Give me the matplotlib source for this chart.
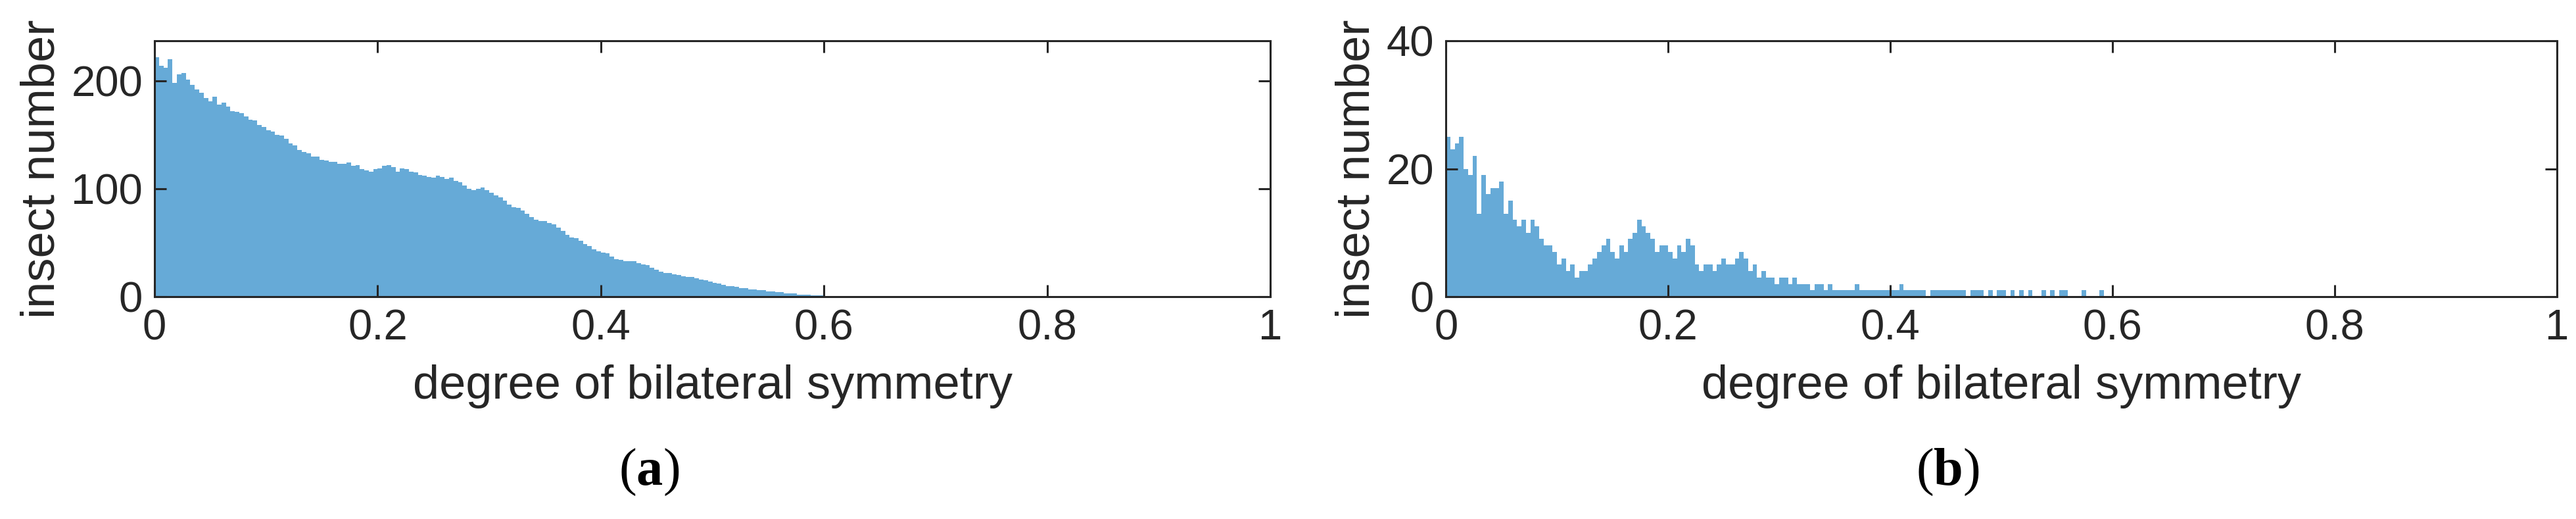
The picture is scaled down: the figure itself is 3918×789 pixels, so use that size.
import numpy as np
import matplotlib.pyplot as plt

# histogram counts, bin width 0.004 starting at 0
bin_width = 0.004

counts_a = [222, 214, 212, 220, 198, 206, 207, 201, 196, 192,
            189, 184, 181, 185, 178, 180, 176, 172, 171, 170,
            167, 164, 163, 159, 157, 154, 153, 150, 149, 146,
            142, 140, 136, 134, 133, 130, 130, 127, 126, 125,
            125, 123, 123, 124, 121, 122, 118, 117, 116, 118,
            119, 121, 122, 120, 116, 119, 118, 116, 115, 113,
            112, 111, 110, 112, 111, 109, 110, 107, 106, 103,
            100, 99, 100, 101, 99, 96, 94, 92, 89, 85,
            83, 82, 80, 77, 74, 71, 70, 70, 68, 67,
            64, 61, 57, 55, 54, 52, 49, 47, 44, 42,
            41, 40, 37, 35, 34, 33, 33, 33, 31, 30,
            29, 27, 25, 23, 22, 22, 21, 20, 19, 18,
            18, 17, 16, 15, 14, 13, 12, 11, 10, 10,
            9, 8, 8, 7, 7, 6, 6, 5, 5, 4,
            4, 3, 3, 3, 2, 2, 2, 1, 1, 1]

counts_b = [25, 23, 24, 25, 20, 19, 22, 13, 19, 16,
            17, 17, 18, 13, 15, 12, 11, 12, 10, 12,
            11, 9, 8, 8, 7, 5, 6, 4, 5, 3,
            4, 4, 5, 6, 7, 8, 9, 7, 6, 8,
            7, 9, 10, 12, 11, 10, 9, 7, 8, 8,
            7, 6, 8, 7, 9, 8, 5, 4, 5, 5,
            4, 5, 6, 5, 5, 6, 7, 6, 4, 5,
            3, 4, 3, 3, 2, 3, 3, 2, 3, 2,
            2, 2, 1, 2, 2, 1, 2, 1, 1, 1,
            1, 1, 2, 1, 1, 1, 1, 1, 1, 1,
            1, 1, 2, 1, 1, 1, 1, 1, 0, 1,
            1, 1, 1, 1, 1, 1, 1, 0, 1, 1,
            1, 0, 1, 0, 1, 1, 0, 1, 0, 1,
            0, 1, 0, 0, 1, 0, 1, 0, 1, 1,
            0, 0, 0, 1, 0, 0, 0, 1, 0, 0]

x_ticks = [0, 0.2, 0.4, 0.6, 0.8, 1]
x_ticklabels = ['0', '0.2', '0.4', '0.6', '0.8', '1']
yticks_a = [0, 100, 200]
yticks_b = [0, 20, 40]
ylim_a = 237
ylim_b = 40

xlabel = 'degree of bilateral symmetry'
ylabel = 'insect number'
panel_letters = ['a', 'b']

plt.rcParams['font.family'] = ['Liberation Sans', 'DejaVu Sans']
plt.rcParams['mathtext.fontset'] = 'custom'
plt.rcParams['mathtext.rm'] = 'Liberation Serif'
plt.rcParams['mathtext.bf'] = 'Liberation Serif:bold'

bar_color = '#66AAD7'
ink = '#262626'

fig = plt.figure(figsize=(39.18, 7.89), dpi=100)
ax_a = fig.add_axes([0.0600, 0.4284, 0.4331, 0.493])
ax_b = fig.add_axes([0.5613, 0.4284, 0.4313, 0.493])


def draw_hist(ax, counts, yticks, ytop):
    left = np.arange(len(counts)) * bin_width
    ax.bar(left, counts, width=bin_width, align='edge', color=bar_color, linewidth=0)
    ax.set_xlim(0, 1)
    ax.set_ylim(0, ytop)
    ax.set_xticks(x_ticks)
    ax.set_xticklabels(x_ticklabels)
    ax.set_yticks(yticks)
    ax.tick_params(direction='in', length=13, width=2.2, labelsize=47, colors=ink,
                   top=True, right=True, pad=13)
    for sp in ax.spines.values():
        sp.set_linewidth(2.2)
        sp.set_color(ink)
    ax.set_xlabel(xlabel, fontsize=52, color=ink, labelpad=18)
    ax.set_ylabel(ylabel, fontsize=52, color=ink, labelpad=8)


draw_hist(ax_a, counts_a, yticks_a, ylim_a)
draw_hist(ax_b, counts_b, yticks_b, ylim_b)

# panel letters, bold letter inside plain brackets
for xpos, letter in zip([0.252, 0.756], panel_letters):
    fig.text(xpos, 0.09, r'$\mathrm{(}\mathbf{' + letter + r'}\mathrm{)}$', ha='center', va='center',
             fontsize=58, color='black')

fig.savefig('out.png', dpi=100)
